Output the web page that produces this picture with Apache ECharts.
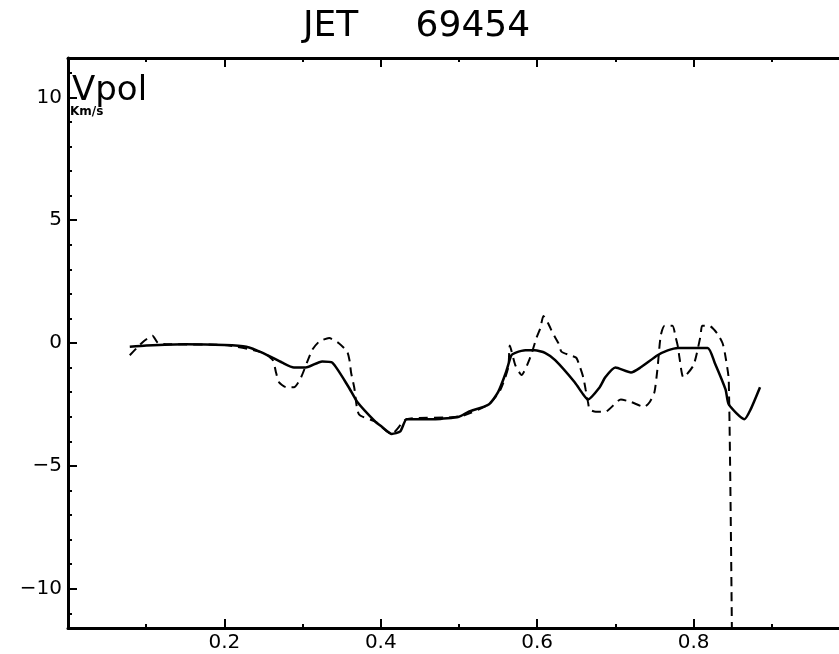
<!DOCTYPE html>
<html>
<head>
<meta charset="utf-8">
<title>JET 69454</title>
<script src="https://cdn.jsdelivr.net/npm/echarts@6/dist/echarts.min.js"></script>
<style>
  html, body { margin: 0; padding: 0; background: #fff; }
  #chart { width: 839px; height: 654px; }
</style>
</head>
<body>
<div id="chart"></div>
<script>
// solid profile (thick)
const solidX = [0.079, 0.10, 0.15, 0.20, 0.228, 0.249, 0.274, 0.289, 0.304, 0.325, 0.338, 0.359, 0.37, 0.393,
  0.401, 0.414, 0.425, 0.433, 0.448, 0.47, 0.50, 0.512, 0.538, 0.55, 0.56, 0.567, 0.572, 0.585, 0.597, 0.61,
  0.623, 0.648, 0.659, 0.665, 0.68, 0.687, 0.70, 0.72, 0.732, 0.754, 0.767, 0.78, 0.818, 0.827, 0.841, 0.845,
  0.865, 0.873, 0.885];
const solidY = [-0.15, -0.1, -0.05, -0.08, -0.15, -0.4, -0.8, -1.0, -1.0, -0.75, -0.8, -1.8, -2.4, -3.2,
  -3.4, -3.7, -3.6, -3.1, -3.1, -3.1, -3.0, -2.8, -2.5, -2.0, -1.2, -0.5, -0.4, -0.3, -0.3, -0.4,
  -0.7, -1.6, -2.1, -2.3, -1.8, -1.4, -1.0, -1.2, -1.0, -0.5, -0.3, -0.2, -0.2, -0.8, -1.9, -2.5,
  -3.1, -2.7, -1.8];

// dashed profile
const dashX = [0.079, 0.088, 0.098, 0.108, 0.115, 0.13, 0.20, 0.25, 0.262, 0.266, 0.27, 0.279, 0.289, 0.298,
  0.312, 0.321, 0.334, 0.346, 0.357, 0.36, 0.362, 0.366, 0.372, 0.393, 0.414, 0.433, 0.50, 0.538, 0.553,
  0.563, 0.565, 0.572, 0.58, 0.591, 0.599, 0.604, 0.608, 0.614, 0.62, 0.627, 0.631, 0.642, 0.65, 0.655,
  0.659, 0.662, 0.665, 0.667, 0.675, 0.687, 0.707, 0.72, 0.737, 0.744, 0.75, 0.754, 0.758, 0.763, 0.773,
  0.777, 0.78, 0.782, 0.787, 0.80, 0.809, 0.811, 0.82, 0.83, 0.837, 0.84, 0.845, 0.849];
const dashY = [-0.5, -0.2, 0.1, 0.3, 0.0, -0.05, -0.08, -0.4, -0.7, -1.2, -1.6, -1.8, -1.8, -1.4,
  -0.3, 0.05, 0.2, 0.0, -0.35, -0.7, -1.2, -1.8, -2.9, -3.2, -3.7, -3.1, -3.0, -2.5, -1.9,
  -1.0, -0.1, -0.9, -1.3, -0.6, 0.2, 0.6, 1.1, 0.8, 0.4, 0.0, -0.35, -0.5, -0.6, -1.0,
  -1.4, -1.9, -2.4, -2.7, -2.8, -2.8, -2.3, -2.4, -2.6, -2.4, -2.0, -1.0, 0.3, 0.7, 0.7,
  0.25, -0.15, -0.6, -1.4, -0.9, 0.3, 0.7, 0.7, 0.4, 0.0, -0.4, -1.5, -11.6];

const xTickLabels = [0.2, 0.4, 0.6, 0.8];
const xMinorTicks = [0.1, 0.3, 0.5, 0.7, 0.9];
const yTickLabels = [-10, -5, 0, 5, 10];
const yMinorTicks = [-11, -9, -8, -7, -6, -4, -3, -2, -1, 1, 2, 3, 4, 6, 7, 8, 9, 11];

const FONT = 'DejaVu Sans';
const X_MAX = 0.986;   // right edge of the picture cuts the frame
const Y_LIM = 11.6;
const chart = echarts.init(document.getElementById('chart'), null, { renderer: 'canvas' });

function pairs(xs, ys) {
  return xs.map((x, i) => [x, ys[i]]);
}

function xAxisOf(position, ticks, len, withLine, withLabel) {
  return {
    type: 'value', min: 0, max: X_MAX, position: position,
    axisLine: { show: withLine, onZero: false, lineStyle: { color: '#000', width: 3 } },
    axisTick: { show: true, inside: true, length: len, customValues: ticks, lineStyle: { color: '#000', width: 2 } },
    axisLabel: withLabel
      ? { show: true, margin: 5, color: '#000', fontFamily: FONT, fontSize: 20, customValues: ticks,
          formatter: v => v.toFixed(1) }
      : { show: false },
    splitLine: { show: false }
  };
}

function yAxisOf(ticks, len, withLine, withLabel) {
  return {
    type: 'value', min: -Y_LIM, max: Y_LIM, position: 'left',
    axisLine: { show: withLine, onZero: false, lineStyle: { color: '#000', width: 3 } },
    axisTick: { show: true, inside: true, length: len, customValues: ticks, lineStyle: { color: '#000', width: 2 } },
    axisLabel: withLabel
      ? { show: true, margin: 6, color: '#000', fontFamily: FONT, fontSize: 20, customValues: ticks,
          formatter: v => String(v).replace('-', '\u2212') }
      : { show: false },
    splitLine: { show: false }
  };
}

const option = {
  backgroundColor: '#fff',
  animation: false,
  title: {
    text: 'JET     69454',
    left: 298, top: 4,
    textStyle: { fontFamily: FONT, fontSize: 36, fontWeight: 'normal', color: '#000' }
  },
  grid: { left: 68, right: 0, top: 58, bottom: 26 },
  xAxis: [
    xAxisOf('bottom', xTickLabels, 9, true, true),
    xAxisOf('top', xTickLabels, 9, true, false),
    xAxisOf('bottom', xMinorTicks, 4, false, false),
    xAxisOf('top', xMinorTicks, 4, false, false)
  ],
  yAxis: [
    yAxisOf(yTickLabels, 9, true, true),
    yAxisOf(yMinorTicks, 4, false, false)
  ],
  graphic: [
    { type: 'text', left: 72, top: 74,
      style: { text: 'Vpol', font: '34px "DejaVu Sans"', fill: '#000' } },
    { type: 'text', left: 70, top: 106,
      style: { text: 'Km/s', font: 'bold 12px "DejaVu Sans"', fill: '#000' } }
  ],
  series: [
    {
      name: 'solid', type: 'line', xAxisIndex: 0, yAxisIndex: 0,
      data: pairs(solidX, solidY), showSymbol: false, smooth: 0.2,
      lineStyle: { color: '#000', width: 2.5 }
    },
    {
      name: 'dashed', type: 'line', xAxisIndex: 0, yAxisIndex: 0,
      data: pairs(dashX, dashY), showSymbol: false, smooth: 0.2,
      lineStyle: { color: '#000', width: 2, type: [9, 6] }
    }
  ]
};

chart.setOption(option);
</script>
</body>
</html>
